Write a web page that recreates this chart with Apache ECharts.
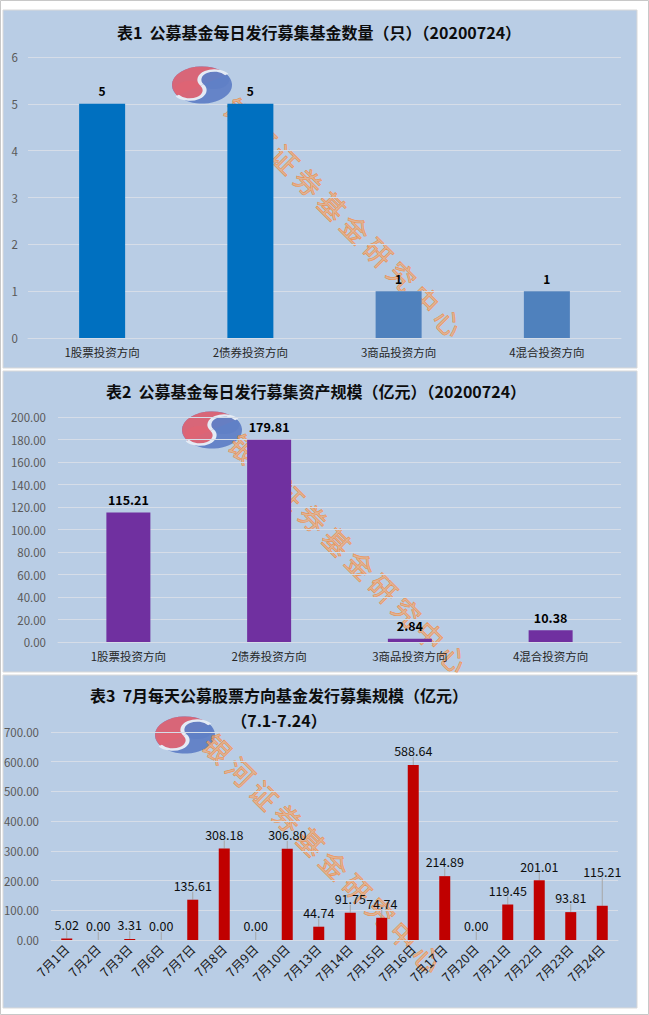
<!DOCTYPE html>
<html>
<head>
<meta charset="utf-8">
<script src="https://cdn.jsdelivr.net/npm/echarts@6/dist/echarts.min.js"></script>
<style>
html,body{margin:0;padding:0;background:#fff;}
#c{width:649px;height:1015px;}
</style>
</head>
<body>
<div id="c"></div>
<script>
// ---- data ----
const categories1 = ['1股票投资方向', '2债券投资方向', '3商品投资方向', '4混合投资方向'];
const fundCount = [5, 5, 1, 1];
const categories2 = ['1股票投资方向', '2债券投资方向', '3商品投资方向', '4混合投资方向'];
const raisedScale = [115.21, 179.81, 2.84, 10.38];
const days3 = ['7月1日', '7月2日', '7月3日', '7月6日', '7月7日', '7月8日', '7月9日', '7月10日', '7月13日',
  '7月14日', '7月15日', '7月16日', '7月17日', '7月20日', '7月21日', '7月22日', '7月23日', '7月24日'];
const stockRaised = [5.02, 0.00, 3.31, 0.00, 135.61, 308.18, 0.00, 306.80, 44.74,
  91.75, 74.74, 588.64, 214.89, 0.00, 119.45, 201.01, 93.81, 115.21];
const title1 = '表1  公募基金每日发行募集基金数量（只）（20200724）';
const title2 = '表2  公募基金每日发行募集资产规模（亿元）（20200724）';
const title3 = '表3  7月每天公募股票方向基金发行募集规模（亿元）';
const title3Sub = '（7.1-7.24）';
const watermarkText = '银河证券基金研究中心';

const FONT = '"Noto Sans CJK SC", "Microsoft YaHei", sans-serif';
const PANEL_BG = '#b9cde5';
const GRID_C = '#d6dde8';
const RED = 'rgba(222,100,116,0.95)';
const BLUE = 'rgba(96,128,198,0.95)';

function logo(x, y) {
  return {
    type: 'group', x: x, y: y, scaleX: 1, scaleY: 0.62, silent: true, z: 100,
    children: [{
      type: 'group', rotation: 0.6,
      children: [
        { type: 'circle', shape: { cx: 0, cy: 0, r: 30 }, style: { fill: BLUE } },
        { type: 'sector', shape: { cx: 0, cy: 0, r: 30, r0: 0, startAngle: Math.PI, endAngle: 2 * Math.PI, clockwise: true }, style: { fill: RED } },
        { type: 'circle', shape: { cx: -15, cy: 0, r: 15 }, style: { fill: RED } },
        { type: 'circle', shape: { cx: 15, cy: 0, r: 15 }, style: { fill: BLUE } },
        { type: 'arc', shape: { cx: 15, cy: 0, r: 15, startAngle: Math.PI, endAngle: 2 * Math.PI, clockwise: true },
          style: { fill: null, stroke: '#e4ebf5', lineWidth: 4 } },
        { type: 'arc', shape: { cx: -15, cy: 0, r: 15, startAngle: 0, endAngle: Math.PI, clockwise: true },
          style: { fill: null, stroke: '#e4ebf5', lineWidth: 4 } }
      ]
    }]
  };
}
function watermark(cx, cy) {
  const chars = watermarkText.split('');
  const step = 33;
  return {
    type: 'group', x: cx, y: cy, rotation: -Math.PI / 4, silent: true, z: 100,
    children: chars.map((ch, i) => ({
      type: 'text', x: (i - (chars.length - 1) / 2) * step, y: 0,
      style: {
        text: ch, font: '27px ' + FONT, align: 'center', verticalAlign: 'middle',
        fill: 'rgba(244,166,106,0.62)', stroke: 'rgba(236,134,62,0.85)', lineWidth: 0.8
      }
    }))
  };
}
function panel(y, h) {
  return { type: 'rect', shape: { x: 3, y: y, width: 634, height: h }, silent: true, z: -10,
    style: { fill: PANEL_BG, stroke: '#d9d9d9', lineWidth: 1 } };
}

const chart = echarts.init(document.getElementById('c'), null, { renderer: 'svg' });

const yLabel = { color: '#595959', fontSize: 11.5, fontFamily: FONT };
const xLabel = { color: '#262626', fontSize: 11.5, fontFamily: FONT, margin: 8 };
const titleStyle = { fontSize: 16, fontWeight: 'bold', color: '#0d0d0d', fontFamily: FONT, lineHeight: 18 };

const option = {
  backgroundColor: '#ffffff',
  animation: false,
  title: [
    { text: title1, left: 319, top: 23, padding: 0, textAlign: 'center', textStyle: titleStyle },
    { text: title2, left: 316, top: 382, padding: 0, textAlign: 'center', textStyle: titleStyle },
    { text: title3, left: 279, top: 686, padding: 0, textAlign: 'center', textStyle: titleStyle },
    { text: title3Sub, left: 279, top: 711, padding: 0, textAlign: 'center', textStyle: titleStyle }
  ],
  grid: [
    { left: 28, top: 57, width: 593, height: 281 },
    { left: 58, top: 417, width: 563, height: 225 },
    { left: 51, top: 732, width: 567, height: 208 }
  ],
  xAxis: [
    { type: 'category', gridIndex: 0, data: categories1, axisTick: { show: false },
      axisLine: { show: true, lineStyle: { color: GRID_C } }, axisLabel: xLabel },
    { type: 'category', gridIndex: 1, data: categories2, axisTick: { show: false },
      axisLine: { show: true, lineStyle: { color: GRID_C } }, axisLabel: xLabel },
    { type: 'category', gridIndex: 2, data: days3, axisTick: { show: false },
      axisLine: { show: true, lineStyle: { color: GRID_C } },
      axisLabel: Object.assign({}, xLabel, { rotate: 45, margin: 7, interval: 0, fontSize: 12.5, color: '#1a1a1a' }) }
  ],
  yAxis: [
    { type: 'value', gridIndex: 0, min: 0, max: 6, interval: 1,
      splitLine: { lineStyle: { color: GRID_C } }, axisLabel: Object.assign({}, yLabel, { margin: 10 }) },
    { type: 'value', gridIndex: 1, min: 0, max: 200, interval: 20,
      splitLine: { lineStyle: { color: GRID_C } },
      axisLabel: Object.assign({}, yLabel, { margin: 12, formatter: v => v.toFixed(2) }) },
    { type: 'value', gridIndex: 2, min: 0, max: 700, interval: 100,
      splitLine: { lineStyle: { color: GRID_C } },
      axisLabel: Object.assign({}, yLabel, { margin: 12, formatter: v => v.toFixed(2) }) }
  ],
  series: [
    { type: 'bar', xAxisIndex: 0, yAxisIndex: 0, data: fundCount, barWidth: 46,
      itemStyle: { color: p => p.dataIndex < 2 ? '#0070c0' : '#4f81bd' },
      label: { show: true, position: 'top', distance: 7, fontWeight: 'bold', fontSize: 12, color: '#000', fontFamily: FONT } },
    { type: 'bar', xAxisIndex: 1, yAxisIndex: 1, data: raisedScale, barWidth: 44,
      itemStyle: { color: '#7030a0' },
      label: { show: true, position: 'top', distance: 7, fontWeight: 'bold', fontSize: 12.5, color: '#000', fontFamily: FONT,
        formatter: p => p.value.toFixed(2) } },
    { type: 'bar', xAxisIndex: 2, yAxisIndex: 2, data: stockRaised, barWidth: 11,
      itemStyle: { color: '#c00000' },
      label: { show: true, position: 'top', distance: 8, fontSize: 12.5, color: '#0d0d0d', fontFamily: FONT,
        formatter: p => p.value.toFixed(2) },
      labelLayout: p => p.dataIndex === stockRaised.length - 1 ? { dy: -20 } : {},
      labelLine: { show: true, lineStyle: { color: '#a6a6a6', width: 1 } } }
  ],
  graphic: {
    elements: [
      { type: 'rect', shape: { x: 0.5, y: 0.5, width: 648, height: 1014 }, silent: true, z: -20,
        style: { fill: '#ffffff', stroke: '#c8c8c8', lineWidth: 1 } },
      panel(10, 358),
      panel(371, 301),
      panel(675, 333),
      logo(202, 85),
      logo(212, 430),
      logo(185, 735),
      watermark(344, 217),
      watermark(349, 553),
      watermark(323, 853)
    ]
  }
};
chart.setOption(option);
</script>
</body>
</html>
